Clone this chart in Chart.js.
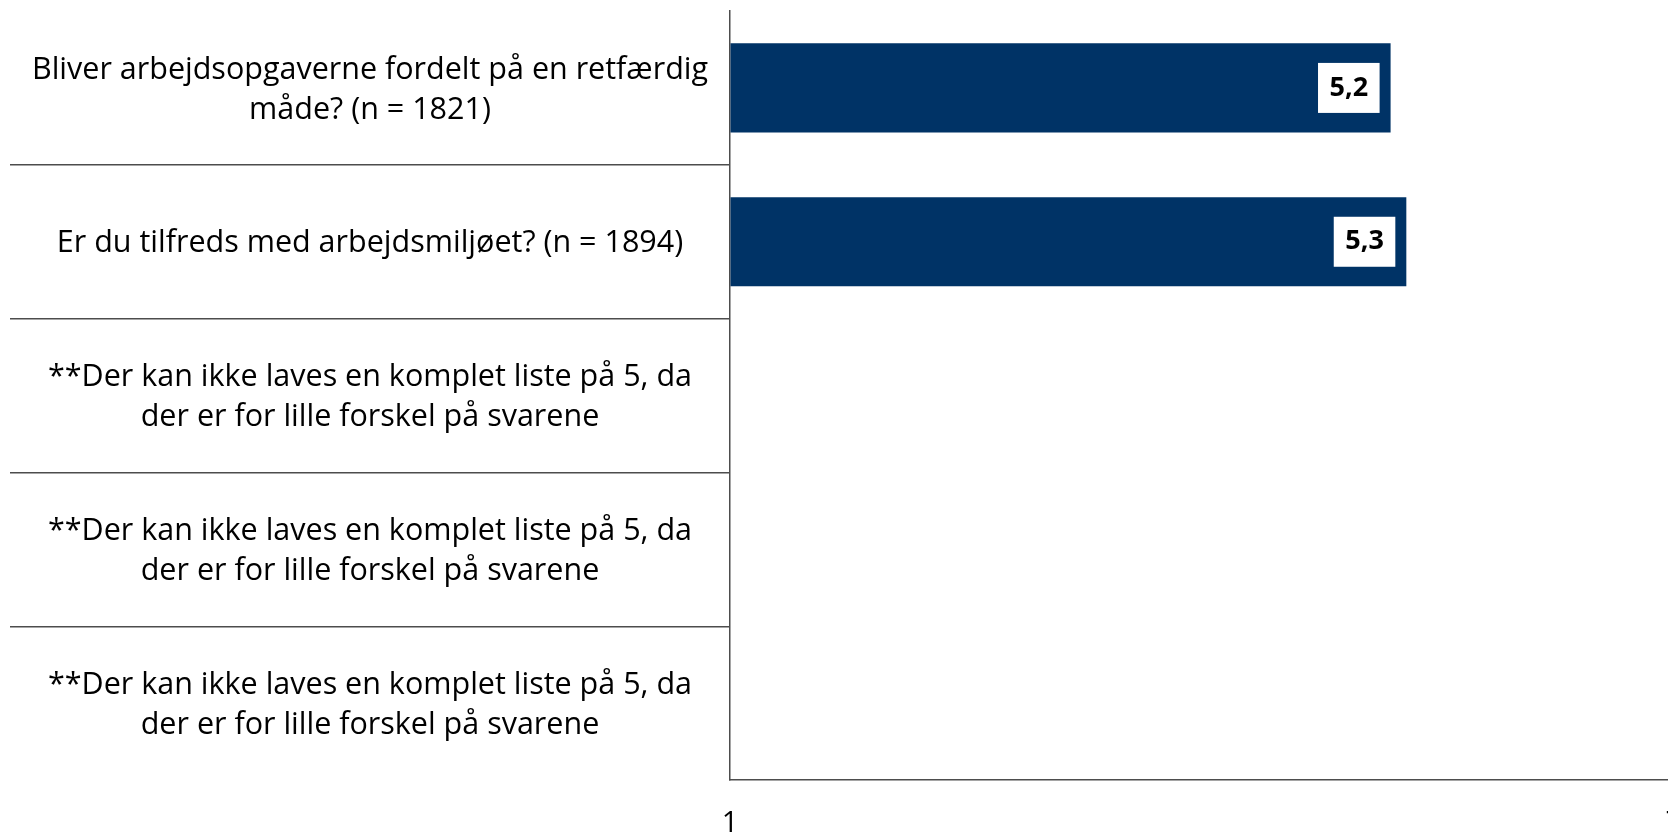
<!DOCTYPE html>
<html>
<head>
<meta charset="utf-8">
<script src="https://cdn.jsdelivr.net/npm/chart.js@4/dist/chart.umd.min.js"></script>
<style>
  html, body { margin: 0; padding: 0; background: #fff; overflow: hidden; }
  canvas { display: block; }
</style>
</head>
<body>
<canvas id="barChart" width="1708" height="900"></canvas>
<script>
// spørgsmål (kategorier) - hver linje er et element
const categories = [
  ['Bliver arbejdsopgaverne fordelt på en retfærdig', 'måde? (n = 1821)'],
  ['Er du tilfreds med arbejdsmiljøet? (n = 1894)'],
  ['**Der kan ikke laves en komplet liste på 5, da', 'der er for lille forskel på svarene'],
  ['**Der kan ikke laves en komplet liste på 5, da', 'der er for lille forskel på svarene'],
  ['**Der kan ikke laves en komplet liste på 5, da', 'der er for lille forskel på svarene']
];
const scores = [5.2, 5.3, null, null, null];
const xTicks = [1, 7];

const FONT = '"Open Sans", Lato, sans-serif';
const barColor = '#003366';
const lineColor = '#4d4d4d';

// kategori-tekst centreret i venstre felt
const categoryLabels = {
  id: 'categoryLabels',
  afterDraw(chart) {
    const ctx = chart.ctx;
    const y = chart.scales.y;
    const cx = (y.left + y.right) / 2;
    const lh = 40;
    ctx.save();
    ctx.font = '30.5px ' + FONT;
    ctx.fillStyle = '#000';
    ctx.textAlign = 'center';
    ctx.textBaseline = 'middle';
    categories.forEach((lines, i) => {
      const cy = y.getPixelForTick(i) + 2;
      const start = cy - (lines.length - 1) * lh / 2;
      lines.forEach((t, j) => ctx.fillText(t, cx, start + j * lh));
    });
    ctx.restore();
  }
};

// værdi i hvid boks ved enden af søjlen
const valueBoxes = {
  id: 'valueBoxes',
  afterDatasetsDraw(chart) {
    const ctx = chart.ctx;
    const meta = chart.getDatasetMeta(0);
    ctx.save();
    ctx.font = 'bold 27px ' + FONT;
    ctx.textAlign = 'center';
    ctx.textBaseline = 'middle';
    meta.data.forEach((bar, i) => {
      const v = scores[i];
      if (v === null || v === undefined) return;
      const txt = v.toFixed(1).replace('.', ',');
      const w = ctx.measureText(txt).width + 23;
      const h = 50;
      const right = bar.x - 11;
      ctx.fillStyle = '#fff';
      ctx.fillRect(right - w, bar.y - h / 2, w, h);
      ctx.fillStyle = '#000';
      ctx.fillText(txt, right - w / 2, bar.y);
    });
    ctx.restore();
  }
};

new Chart(document.getElementById('barChart'), {
  type: 'bar',
  data: {
    labels: categories,
    datasets: [{
      data: scores,
      base: 1,
      backgroundColor: barColor,
      borderWidth: 0,
      categoryPercentage: 1,
      barPercentage: 0.58
    }]
  },
  options: {
    indexAxis: 'y',
    responsive: false,
    animation: false,
    devicePixelRatio: 1,
    layout: { padding: { left: 10, top: 11, right: 0, bottom: 33 } },
    plugins: {
      legend: { display: false },
      tooltip: { enabled: false }
    },
    scales: {
      x: {
        min: 1,
        max: 7,
        afterBuildTicks: (scale) => { scale.ticks = xTicks.map(v => ({ value: v })); },
        grid: { drawOnChartArea: false, drawTicks: false },
        border: { display: true, color: lineColor, width: 1.5 },
        ticks: {
          padding: 26,
          color: '#000',
          font: { family: FONT, size: 29 },
          maxRotation: 0
        }
      },
      y: {
        afterFit: (scale) => { scale.width = 720; },
        grid: {
          offset: true,
          drawOnChartArea: false,
          drawTicks: true,
          tickLength: 720,
          lineWidth: 1.5,
          color: (c) => (c.type !== 'tick' || c.index === 0) ? 'rgba(0,0,0,0)' : lineColor
        },
        border: { display: true, color: lineColor, width: 1.5 },
        ticks: { display: false }
      }
    }
  },
  plugins: [categoryLabels, valueBoxes]
});
</script>
</body>
</html>
